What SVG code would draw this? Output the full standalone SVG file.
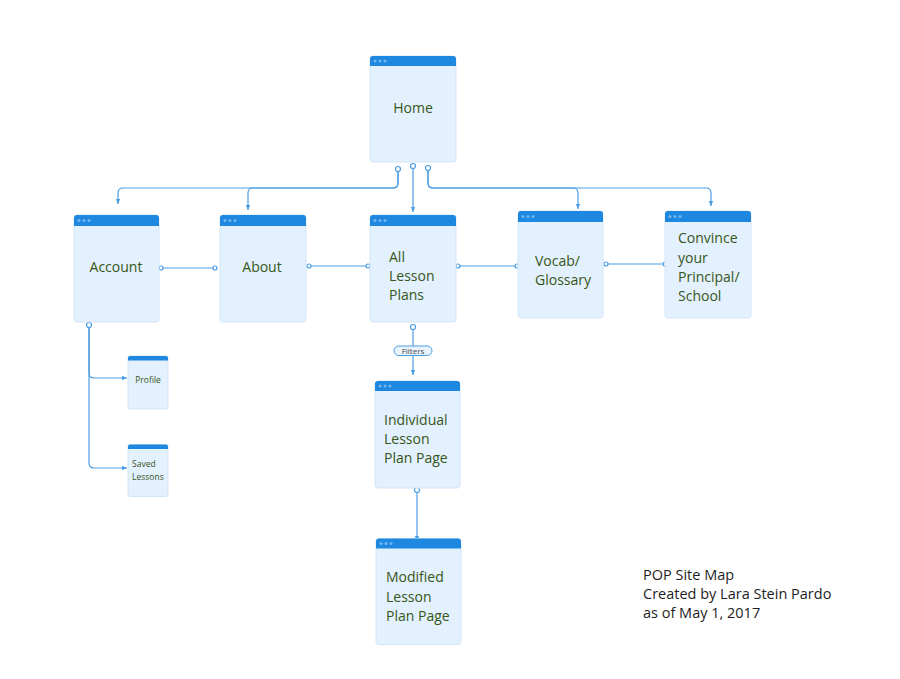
<svg xmlns="http://www.w3.org/2000/svg" width="900" height="679" viewBox="0 0 900 679">
<defs>
<style>
.box{fill:#e3f0fd;stroke:#d3e6f8;stroke-width:1}
.hdr{fill:#1e88e0}
.dot{fill:#74b6f0}
.t{font-family:"Open Sans","Noto Sans",sans-serif;font-size:14px;fill:#36561a}
.ts{font-family:"Open Sans","Noto Sans",sans-serif;font-size:8.5px;fill:#36561a}
.tc{text-anchor:middle}
.c{fill:none;stroke:#4d9de2;stroke-width:1.2}
.o{fill:#fff;stroke:#4d9de2;stroke-width:1.2}
.foot{font-family:"Open Sans","Noto Sans",sans-serif;font-size:14.5px;fill:#1e1e1e}
</style>
<marker id="ar" markerWidth="6" markerHeight="6" refX="5" refY="3" orient="auto" markerUnits="userSpaceOnUse">
<path d="M0,0.8 L5,3 L0,5.2 Z" fill="#4d9de2"/>
</marker>
</defs>
<rect width="900" height="679" fill="#fff"/>

<g id="connectors">
<path class="c" d="M398,172 V183 Q398,188 393,188 H123 Q118,188 118,193 V204" marker-end="url(#ar)"/>
<path class="c" d="M398,172 V183 Q398,188 393,188 H253 Q248,188 248,193 V210" marker-end="url(#ar)"/>
<path class="c" d="M413,169 V212" marker-end="url(#ar)"/>
<path class="c" d="M428,171 V183 Q428,188 433,188 H573 Q578,188 578,193 V209" marker-end="url(#ar)"/>
<path class="c" d="M428,171 V183 Q428,188 433,188 H706 Q711,188 711,193 V206" marker-end="url(#ar)"/>
<circle class="o" cx="398" cy="169" r="2.5"/>
<circle class="o" cx="413" cy="166" r="2.5"/>
<circle class="o" cx="428" cy="168" r="2.5"/>

<path class="c" d="M161,268 H215"/>
<circle class="o" cx="161" cy="268" r="2"/>
<circle class="o" cx="215" cy="268" r="2"/>
<path class="c" d="M309,266 H368"/>
<circle class="o" cx="309" cy="266" r="2"/>
<circle class="o" cx="368" cy="266" r="2"/>
<path class="c" d="M458,266 H517"/>
<circle class="o" cx="458" cy="266" r="2"/>
<circle class="o" cx="517" cy="266" r="2"/>
<path class="c" d="M606,264 H665"/>
<circle class="o" cx="606" cy="264" r="2"/>
<circle class="o" cx="665" cy="264" r="2"/>

<path class="c" d="M89,327 V373 Q89,378 94,378 H127" marker-end="url(#ar)"/>
<path class="c" d="M89,327 V463 Q89,468 94,468 H127" marker-end="url(#ar)"/>
<circle class="o" cx="89" cy="325" r="2.5"/>

<path class="c" d="M413,329 V375" marker-end="url(#ar)"/>
<circle class="o" cx="413" cy="327" r="2.5"/>
<rect x="394" y="346" width="38" height="9.5" rx="4.75" fill="#e8f3fd" stroke="#4d9de2" stroke-width="1"/>
<text x="413" y="353.7" class="ts tc" style="font-size:8px;fill:#4a4a4a">Filters</text>

<path class="c" d="M417,492 V541" marker-end="url(#ar)"/>
<circle class="o" cx="417" cy="490" r="2.5"/>
</g>

<g id="home">
<rect class="box" x="370" y="56" width="86" height="106" rx="3"/>
<path class="hdr" d="M370,66 V59 Q370,56 373,56 H453 Q456,56 456,59 V66 Z"/>
<circle class="dot" cx="375" cy="61" r="1.5"/><circle class="dot" cx="380" cy="61" r="1.5"/><circle class="dot" cx="385" cy="61" r="1.5"/>
<text class="t tc" x="413" y="113">Home</text>
</g>

<g id="account">
<rect class="box" x="74" y="215" width="85" height="107" rx="3"/>
<path class="hdr" d="M74,226 V218 Q74,215 77,215 H156 Q159,215 159,218 V226 Z"/>
<circle class="dot" cx="79" cy="220.5" r="1.5"/><circle class="dot" cx="84" cy="220.5" r="1.5"/><circle class="dot" cx="89" cy="220.5" r="1.5"/>
<text class="t tc" x="116" y="272">Account</text>
</g>

<g id="about">
<rect class="box" x="220" y="215" width="86" height="107" rx="3"/>
<path class="hdr" d="M220,226 V218 Q220,215 223,215 H303 Q306,215 306,218 V226 Z"/>
<circle class="dot" cx="225" cy="220.5" r="1.5"/><circle class="dot" cx="230" cy="220.5" r="1.5"/><circle class="dot" cx="235" cy="220.5" r="1.5"/>
<text class="t tc" x="262" y="272">About</text>
</g>

<g id="all-lesson-plans">
<rect class="box" x="370" y="215" width="86" height="107" rx="3"/>
<path class="hdr" d="M370,226 V218 Q370,215 373,215 H453 Q456,215 456,218 V226 Z"/>
<circle class="dot" cx="375" cy="220.5" r="1.5"/><circle class="dot" cx="380" cy="220.5" r="1.5"/><circle class="dot" cx="385" cy="220.5" r="1.5"/>
<text class="t" x="389" y="261.5">All</text>
<text class="t" x="389" y="281">Lesson</text>
<text class="t" x="389" y="300.3">Plans</text>
</g>

<g id="vocab">
<rect class="box" x="518" y="211" width="85" height="107" rx="3"/>
<path class="hdr" d="M518,222 V214 Q518,211 521,211 H600 Q603,211 603,214 V222 Z"/>
<circle class="dot" cx="523" cy="216.5" r="1.5"/><circle class="dot" cx="528" cy="216.5" r="1.5"/><circle class="dot" cx="533" cy="216.5" r="1.5"/>
<text class="t" x="535" y="266">Vocab/</text>
<text class="t" x="535" y="285.3">Glossary</text>
</g>

<g id="convince">
<rect class="box" x="665" y="211" width="86" height="107" rx="3"/>
<path class="hdr" d="M665,222 V214 Q665,211 668,211 H748 Q751,211 751,214 V222 Z"/>
<circle class="dot" cx="670" cy="216.5" r="1.5"/><circle class="dot" cx="675" cy="216.5" r="1.5"/><circle class="dot" cx="680" cy="216.5" r="1.5"/>
<text class="t" x="678" y="243.3">Convince</text>
<text class="t" x="678" y="262.7">your</text>
<text class="t" x="678" y="282">Principal/</text>
<text class="t" x="678" y="301.3">School</text>
</g>

<g id="profile">
<rect class="box" x="128" y="356" width="40" height="53" rx="2"/>
<path class="hdr" d="M128,360.5 V358 Q128,356 130,356 H166 Q168,356 168,358 V360.5 Z"/>
<text class="ts tc" x="148" y="383">Profile</text>
</g>

<g id="saved-lessons">
<rect class="box" x="128" y="444.5" width="40" height="52" rx="2"/>
<path class="hdr" d="M128,449 V446.5 Q128,444.5 130,444.5 H166 Q168,444.5 168,446.5 V449 Z"/>
<text class="ts" x="132" y="467">Saved</text>
<text class="ts" x="132" y="480">Lessons</text>
</g>

<g id="individual-lesson-plan-page">
<rect class="box" x="375" y="381" width="85" height="107" rx="3"/>
<path class="hdr" d="M375,391 V384 Q375,381 378,381 H457 Q460,381 460,384 V391 Z"/>
<circle class="dot" cx="380" cy="386" r="1.5"/><circle class="dot" cx="385" cy="386" r="1.5"/><circle class="dot" cx="390" cy="386" r="1.5"/>
<text class="t" x="384" y="425">Individual</text>
<text class="t" x="384" y="444.3">Lesson</text>
<text class="t" x="384" y="463.3">Plan Page</text>
</g>

<g id="modified-lesson-plan-page">
<rect class="box" x="376" y="538.5" width="85" height="106" rx="3"/>
<path class="hdr" d="M376,548.5 V541.5 Q376,538.5 379,538.5 H458 Q461,538.5 461,541.5 V548.5 Z"/>
<circle class="dot" cx="381" cy="543.5" r="1.5"/><circle class="dot" cx="386" cy="543.5" r="1.5"/><circle class="dot" cx="391" cy="543.5" r="1.5"/>
<text class="t" x="386" y="582.3">Modified</text>
<text class="t" x="386" y="601.7">Lesson</text>
<text class="t" x="386" y="621">Plan Page</text>
</g>

<g id="caption">
<text class="foot" x="643" y="580">POP Site Map</text>
<text class="foot" x="643" y="599">Created by Lara Stein Pardo</text>
<text class="foot" x="643" y="618">as of May 1, 2017</text>
</g>
</svg>
